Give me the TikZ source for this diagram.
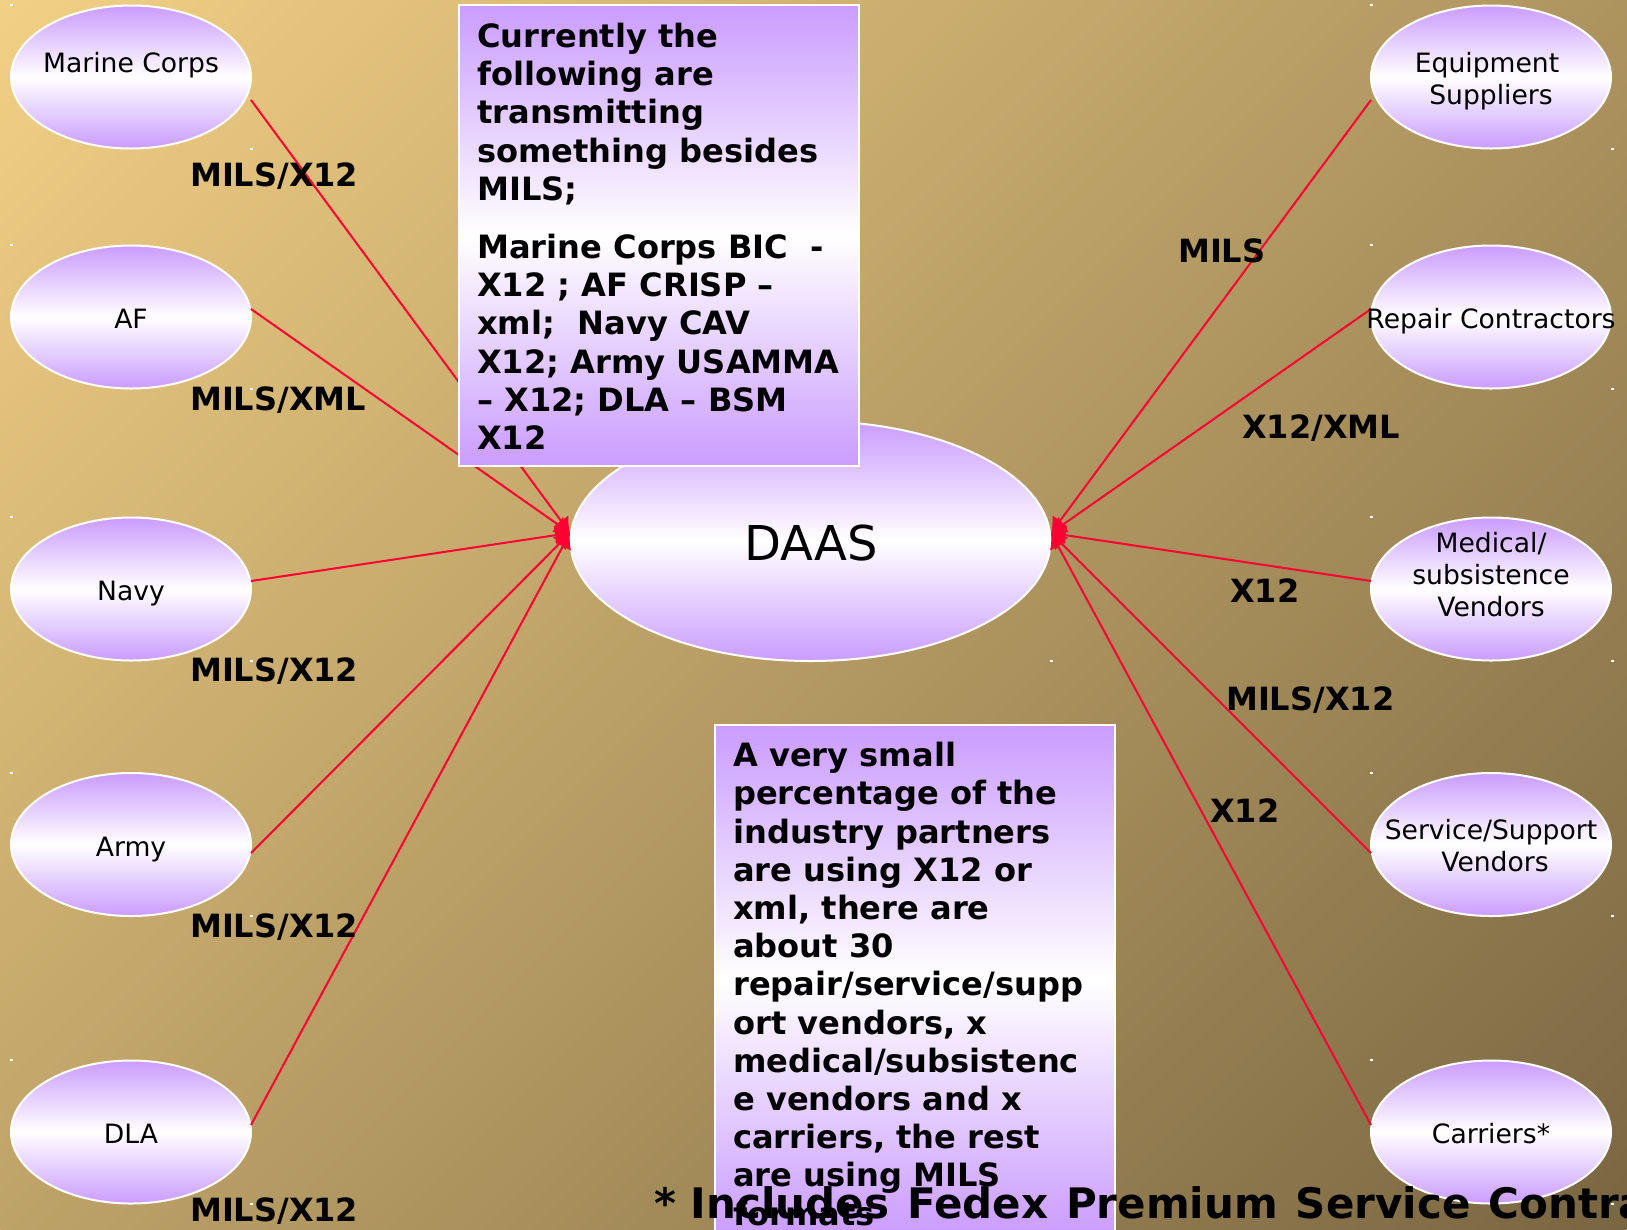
\documentclass[tikz,border=0pt]{standalone}
\usepackage{fontspec}
\setmainfont{DejaVu Sans}
\usetikzlibrary{arrows.meta,shapes.geometric}
\definecolor{lilac}{HTML}{CA9CFF}
\definecolor{bgA}{HTML}{F2D085}
\definecolor{bgB}{HTML}{796642}
\definecolor{wire}{HTML}{FF0033}
\tikzset{
  x=1pt,y=-1pt,
  ell/.style={ellipse,draw=white,line width=2pt,top color=lilac,bottom color=lilac,middle color=white,inner sep=0pt,outer sep=0pt,minimum width=240pt,minimum height=143pt},
  hub/.style={ell,minimum width=480pt,minimum height=240pt},
  notebox/.style={rectangle,draw=white,line width=2pt,top color=lilac,bottom color=lilac,middle color=white,inner sep=0pt,outer sep=0pt,anchor=north west},
  etext/.style={anchor=base,inner sep=0pt,font=\fontsize{26.6}{32}\selectfont,align=center},
  lbl/.style={anchor=base west,inner sep=0pt,font=\fontsize{32}{38}\selectfont\bfseries},
  ntext/.style={anchor=north west,inner sep=0pt,align=left,font=\fontsize{32.1}{38.2}\selectfont\bfseries},
  wireline/.style={draw=wire,line width=2pt,-{Latex[length=15pt,width=19pt]}},
  speck/.style={fill=white,draw=none}
}
\newcommand{\speckat}[2]{\fill[speck] (#1-1.5,#2-1) rectangle (#1+1.5,#2+1);}
\begin{document}
\begin{tikzpicture}
\useasboundingbox (0,0) rectangle (1627,1229);
\begin{scope}[transform canvas={shift={(813.5,614.5)},rotate=-45}]
\shade[left color=bgA,right color=bgB] (-1010,-1010) rectangle (1010,1010);
\end{scope}
\foreach \cy in {5,245,517,773,1060}{\speckat{11}{\cy}\speckat{1371}{\cy}}
\foreach \cy in {149,389,661,916,1204}{\speckat{251}{\cy}\speckat{1612}{\cy}}
\speckat{1051}{661}
\node[hub] (daas) at (810.5,541) {};
\node[anchor=base,inner sep=0pt,font=\fontsize{48}{54}\selectfont] (daast) at (811,560) {DAAS};
\node[ell] (marine) at (131,77) {};
\node[ell] (af) at (131,317) {};
\node[ell] (navy) at (131,589) {};
\node[ell] (army) at (131,844.5) {};
\node[ell] (dla) at (131,1132) {};
\node[ell] (equip) at (1491,77) {};
\node[ell] (repair) at (1491,317) {};
\node[ell] (medical) at (1491,589) {};
\node[ell] (service) at (1491,844.5) {};
\node[ell] (carriers) at (1491,1132) {};
\coordinate (hubL) at (570,533);
\coordinate (hubR) at (1051,533);
\draw[wireline] ([yshift=-23pt]marine.east) -- (hubL);
\draw[wireline] ([yshift=8pt]af.east) -- (hubL);
\draw[wireline] ([yshift=8pt]navy.east) -- (hubL);
\draw[wireline] ([yshift=-8.5pt]army.east) -- (hubL);
\draw[wireline] ([yshift=7pt]dla.east) -- (hubL);
\draw[wireline] ([yshift=-23pt]equip.west) -- (hubR);
\draw[wireline] ([yshift=8pt]repair.west) -- (hubR);
\draw[wireline] ([yshift=8pt]medical.west) -- (hubR);
\draw[wireline] ([yshift=-8.5pt]service.west) -- (hubR);
\draw[wireline] ([yshift=7pt]carriers.west) -- (hubR);
\node[etext] (t1) at (131,72) {Marine Corps};
\node[etext] (t2) at (131,328) {AF};
\node[etext] (t3) at (131,600) {Navy};
\node[etext] (t4) at (131,856) {Army};
\node[etext] (t5) at (131,1143) {DLA};
\node[etext] (t6) at (1491,104) {\hspace*{-8pt}Equipment\\Suppliers};
\node[etext] (t7) at (1491,328) {Repair Contractors};
\node[etext] (t8) at (1491,616) {Medical/\\subsistence\\Vendors};
\node[etext] (t9) at (1491,871) {Service/Support\\\hspace*{8pt}Vendors};
\node[etext] (t10) at (1491,1143) {Carriers*};
\node[notebox,minimum width=400pt,minimum height=461pt] (noteA) at (459,5) {};
\node[ntext] (noteAa) at ([xshift=18pt,yshift=-18pt]noteA.north west) {Currently the\\following are\\transmitting\\something besides\\MILS;};
\node[ntext] (noteAb) at ([xshift=18pt,yshift=-229pt]noteA.north west) {Marine Corps BIC\ \ -\\X12 ; AF CRISP –\\xml;\ \ Navy CAV\\X12; Army USAMMA\\– X12; DLA – BSM\\X12};
\node[notebox,minimum width=400pt,minimum height=510pt] (noteB) at (715,725) {};
\node[ntext] (noteBa) at ([xshift=18pt,yshift=-17pt]noteB.north west) {A very small\\percentage of the\\industry partners\\are using X12 or\\xml, there are\\about 30\\repair/service/supp\\ort vendors, x\\medical/subsistenc\\e vendors and x\\carriers, the rest\\are using MILS\\formats};
\node[lbl] (l1) at (190,186) {MILS/X12};
\node[lbl] (l2) at (190,410) {MILS/XML};
\node[lbl] (l3) at (190,681) {MILS/X12};
\node[lbl] (l4) at (190,937) {MILS/X12};
\node[lbl] (l5) at (190,1221) {MILS/X12};
\node[lbl] (r1) at (1178,262) {MILS};
\node[lbl] (r2) at (1242,438) {X12/XML};
\node[lbl] (r3) at (1230,602) {X12};
\node[lbl] (r4) at (1226,710) {MILS/X12};
\node[lbl] (r5) at (1210,822) {X12};
\node[anchor=base west,inner sep=0pt,font=\fontsize{42}{48}\selectfont\bfseries] (foot) at (654,1218) {* Includes\spaceskip=18pt\relax{} Fedex Premium Service Contract};
\end{tikzpicture}
\end{document}
